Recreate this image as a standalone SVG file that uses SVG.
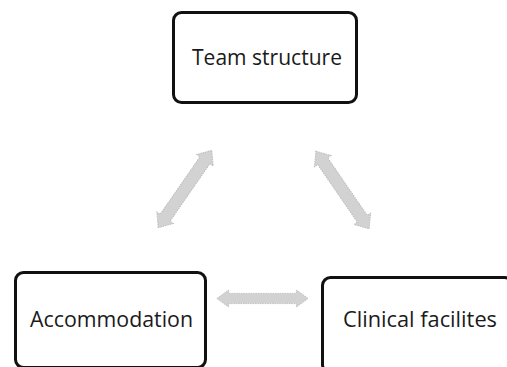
<svg xmlns="http://www.w3.org/2000/svg" xmlns:xlink="http://www.w3.org/1999/xlink" width="507" height="367" viewBox="0 0 507 367">
<style>
.box{fill:#fff;stroke:#111;stroke-width:3}
.lbl{font-family:"Open Sans","Liberation Sans",sans-serif;font-size:21px;fill:#1a1a1a}
.arr{fill:#d2d2d2;stroke:#bcbcbc;stroke-width:1;stroke-dasharray:1.5 1}
</style>
<defs>
<path id="dbl" d="M-47,0 L-35,-10 L-35,-6 L35,-6 L35,-10 L47,0 L35,10 L35,6 L-35,6 L-35,10 Z"/>
</defs>
<rect width="507" height="367" fill="#fff"/>
<g id="connectors">
<use xlink:href="#dbl" class="arr" transform="translate(185,189) rotate(-55.3)"/>
<use xlink:href="#dbl" class="arr" transform="translate(342.5,190) rotate(55.5)"/>
<use xlink:href="#dbl" class="arr" transform="translate(262.5,298.5) scale(0.97,0.85)"/>
</g>
<g id="team">
<rect class="box" x="173.5" y="12.5" width="183" height="90" rx="8"/>
<text class="lbl" x="192" y="65" textLength="150" lengthAdjust="spacingAndGlyphs">Team structure</text>
</g>
<g id="accommodation">
<rect class="box" x="15.5" y="272.5" width="190" height="95" rx="8"/>
<text class="lbl" x="30" y="327" textLength="163" lengthAdjust="spacingAndGlyphs">Accommodation</text>
</g>
<g id="clinical">
<rect class="box" x="322.5" y="277.5" width="190" height="95" rx="8"/>
<text class="lbl" x="343" y="327" textLength="154" lengthAdjust="spacingAndGlyphs">Clinical facilites</text>
</g>
</svg>
